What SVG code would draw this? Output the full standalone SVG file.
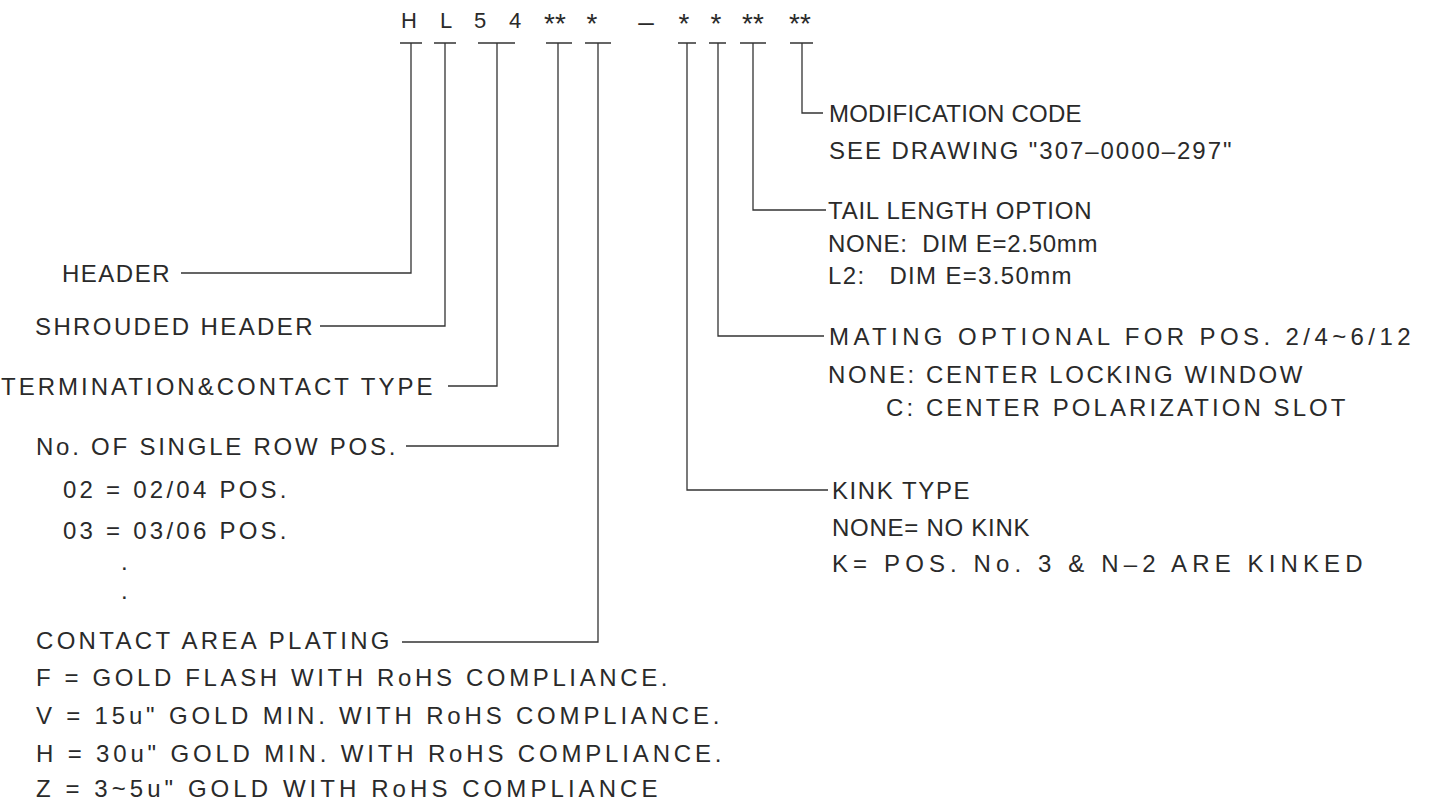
<svg xmlns="http://www.w3.org/2000/svg" width="1434" height="802" viewBox="0 0 1434 802">
<style>
text{font-family:"Liberation Sans",Arial,sans-serif;font-size:24px;fill:#2a2a2a;letter-spacing:2.5px}
.top text{text-anchor:middle;letter-spacing:0;font-size:22px}
.top .ast{font-size:28px}
.ln{stroke:#333;stroke-width:1.3;fill:none}
</style>
<rect width="1434" height="802" fill="#fff"/>
<g id="code" class="top">
<text x="409" y="28">H</text>
<text x="446" y="28">L</text>
<text x="480" y="28">5</text>
<text x="515" y="28">4</text>
<text class="ast" x="555" y="33">**</text>
<text class="ast" x="592" y="33">*</text>
<text class="ast" x="646" y="31">–</text>
<text class="ast" x="684" y="33">*</text>
<text class="ast" x="716" y="33">*</text>
<text class="ast" x="753" y="33">**</text>
<text class="ast" x="800" y="33">**</text>
</g>
<g id="connectors" class="ln">
<path d="M400 43H422M411 43V273H181"/>
<path d="M434 43H456M445 43V326H320"/>
<path d="M478 43H515M497 43V386H448"/>
<path d="M546 43H572M558 43V446H406"/>
<path d="M585 43H611M598 43V642H402"/>
<path d="M678 43H696M687 43V490H828"/>
<path d="M709 43H726M718 43V336H824"/>
<path d="M740 43H766M753 43V210H826"/>
<path d="M790 43H813M802 43V113H823"/>
</g>
<g id="header"><text x="62" y="282" textLength="110">HEADER</text></g>
<g id="shrouded"><text x="35" y="335" textLength="280">SHROUDED HEADER</text></g>
<g id="termination"><text x="1" y="395" textLength="434">TERMINATION&amp;CONTACT TYPE</text></g>
<g id="rows">
<text x="36" y="455" textLength="362">No. OF SINGLE ROW POS.</text>
<text x="63" y="498" textLength="226">02 = 02/04 POS.</text>
<text x="63" y="539" textLength="226">03 = 03/06 POS.</text>
<text x="121" y="570">.</text>
<text x="121" y="599">.</text>
</g>
<g id="plating">
<text x="36" y="649" textLength="356">CONTACT AREA PLATING</text>
<text x="36" y="686" textLength="634">F = GOLD FLASH WITH RoHS COMPLIANCE.</text>
<text x="36" y="724" textLength="686">V = 15u" GOLD MIN. WITH RoHS COMPLIANCE.</text>
<text x="36" y="762" textLength="688">H = 30u" GOLD MIN. WITH RoHS COMPLIANCE.</text>
<text x="36" y="797" textLength="624">Z = 3~5u" GOLD WITH RoHS COMPLIANCE</text>
</g>
<g id="modification">
<text x="829" y="122" textLength="255">MODIFICATION CODE</text>
<text x="829" y="159" textLength="405">SEE DRAWING "307–0000–297"</text>
</g>
<g id="tail">
<text x="828" y="219" textLength="266">TAIL LENGTH OPTION</text>
<text x="828" y="252" textLength="272">NONE:&#160; DIM E=2.50mm</text>
<text x="828" y="284" textLength="246">L2:&#160;&#160; DIM E=3.50mm</text>
</g>
<g id="mating">
<text x="829" y="345" textLength="584">MATING OPTIONAL FOR POS. 2/4~6/12</text>
<text x="828" y="383" textLength="477">NONE: CENTER LOCKING WINDOW</text>
<text x="886" y="416" textLength="462">C: CENTER POLARIZATION SLOT</text>
</g>
<g id="kink">
<text x="832" y="499" textLength="140">KINK TYPE</text>
<text x="832" y="536" textLength="200">NONE= NO KINK</text>
<text x="832" y="572" textLength="533">K= POS. No. 3 &amp; N–2 ARE KINKED</text>
</g>
</svg>
